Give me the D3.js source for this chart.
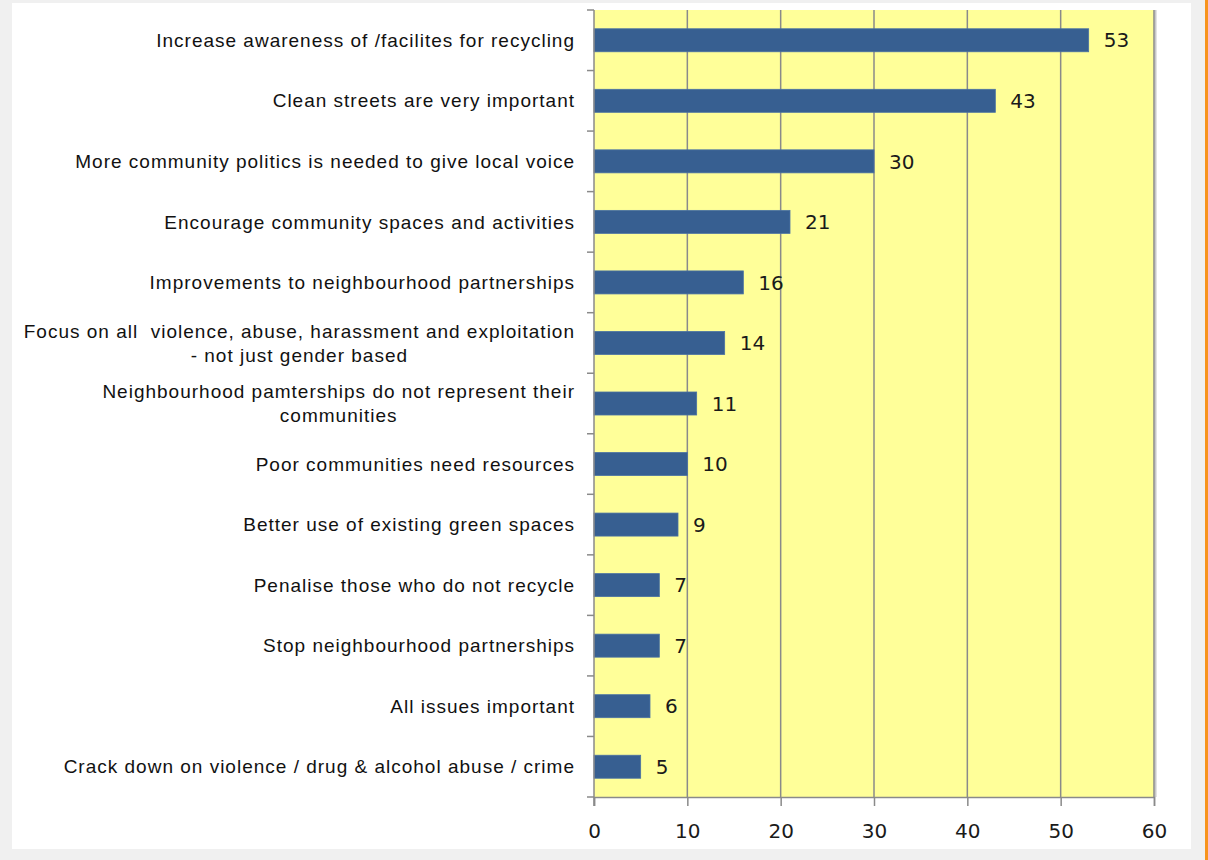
<!DOCTYPE html>
<html>
<head>
<meta charset="utf-8">
<script src="https://cdn.jsdelivr.net/npm/d3@7"></script>
<style>
  html, body { margin: 0; padding: 0; background: #f0f0f0; }
  svg { display: block; }
</style>
</head>
<body>
<svg id="chart" width="1208" height="860"></svg>
<script>
const categories = [
  "Increase awareness of /facilites for recycling",
  "Clean streets are very important",
  "More community politics is needed to give local voice",
  "Encourage community spaces and activities",
  "Improvements to neighbourhood partnerships",
  "Focus on all  violence, abuse, harassment and exploitation\n- not just gender based",
  "Neighbourhood pamterships do not represent their\ncommunities",
  "Poor communities need resources",
  "Better use of existing green spaces",
  "Penalise those who do not recycle",
  "Stop neighbourhood partnerships",
  "All issues important",
  "Crack down on violence / drug & alcohol abuse / crime"
];
const values = [53, 43, 30, 21, 16, 14, 11, 10, 9, 7, 7, 6, 5];
const xTicks = [0, 10, 20, 30, 40, 50, 60];

(function () {
const svg = d3.select("#chart");
// card
svg.append("rect").attr("x", 12).attr("y", 3).attr("width", 1179).attr("height", 846).attr("fill", "#ffffff");
svg.append("rect").attr("x", 1205).attr("y", 0).attr("width", 3).attr("height", 860).attr("fill", "#f7941d");

const pL = 594, pR = 1154, pT = 10, pB = 797;
const x = d3.scaleLinear().domain([0, 60]).range([pL, pR]);
const y = d3.scaleBand().domain(categories).range([pT, pB]).paddingInner(0.62).paddingOuter(0.31);
const step = y.step();

// plot area
svg.append("rect").attr("x", pL).attr("y", pT).attr("width", pR - pL).attr("height", pB - pT).attr("fill", "#ffff99");

// gridlines
svg.append("g").selectAll("line").data(xTicks.filter(d => d > 0 && d < 60)).join("line")
  .attr("x1", d => x(d)).attr("x2", d => x(d)).attr("y1", pT).attr("y2", pB)
  .attr("stroke", "#8a8a8a").attr("stroke-width", 1.5);

// right border with shadow
svg.append("line").attr("x1", pR + 1.5).attr("x2", pR + 1.5).attr("y1", pT).attr("y2", pB)
  .attr("stroke", "#c8c8c8").attr("stroke-width", 2);
svg.append("line").attr("x1", pR).attr("x2", pR).attr("y1", pT).attr("y2", pB)
  .attr("stroke", "#8a8a8a").attr("stroke-width", 1.5);

// bars
svg.append("g").selectAll("rect").data(values).join("rect")
  .attr("x", x(0)).attr("y", (d, i) => y(categories[i]))
  .attr("width", d => x(d) - x(0)).attr("height", y.bandwidth())
  .attr("fill", "#375f91").attr("stroke", "#4a72a3").attr("stroke-width", 0.8);

// value labels
svg.append("g").selectAll("text").data(values).join("text")
  .attr("x", d => x(d) + 15).attr("y", (d, i) => y(categories[i]) + y.bandwidth() / 2)
  .attr("dy", "0.36em")
  .attr("font-family", "DejaVu Sans, Verdana, sans-serif").attr("font-size", 20)
  .attr("fill", "#1a1a1a")
  .text(d => d);

// left axis line and ticks at band boundaries
const boundaries = d3.range(categories.length + 1).map(i => pT + i * step);
svg.append("line").attr("x1", pL).attr("x2", pL).attr("y1", pT).attr("y2", pB + 9)
  .attr("stroke", "#8a8a8a").attr("stroke-width", 1.5);
svg.append("g").selectAll("line").data(boundaries).join("line")
  .attr("x1", pL - 7).attr("x2", pL).attr("y1", d => d).attr("y2", d => d)
  .attr("stroke", "#8a8a8a").attr("stroke-width", 1.5);

// bottom axis
const xAxis = svg.append("g").attr("transform", `translate(0,${pB})`)
  .call(d3.axisBottom(x).tickValues(xTicks).tickSize(9).tickPadding(18));
xAxis.select(".domain").attr("stroke", "#8a8a8a").attr("stroke-width", 1.5);
xAxis.selectAll(".tick line").attr("stroke", "#8a8a8a").attr("stroke-width", 1.5);
xAxis.selectAll(".tick text").attr("font-family", "DejaVu Sans, Verdana, sans-serif")
  .attr("font-size", 20).attr("fill", "#1a1a1a");

// category labels
const lab = svg.append("g").selectAll("text").data(categories).join("text")
  .attr("font-family", "Liberation Sans, Arial, sans-serif").attr("font-size", 19)
  .attr("letter-spacing", 1.0)
  .attr("fill", "#111")
  .style("white-space", "pre")
  .attr("text-anchor", "middle");
lab.each(function(d) {
  const lines = d.split("\n");
  const t = d3.select(this);
  const cy = y(d) + y.bandwidth() / 2;
  const lh = 24;
  lines.forEach((ln, j) => {
    t.append("tspan").attr("y", cy + (j - (lines.length - 1) / 2) * lh).attr("dy", "0.35em").text(ln);
  });
});
lab.each(function(d) {
  const t = d3.select(this);
  const tspans = t.selectAll("tspan").nodes();
  const widths = tspans.map(n => n.getComputedTextLength());
  const maxW = d3.max(widths);
  const cx = pL - 19 - maxW / 2;
  t.selectAll("tspan").attr("x", cx);
});
})();
</script>
</body>
</html>
